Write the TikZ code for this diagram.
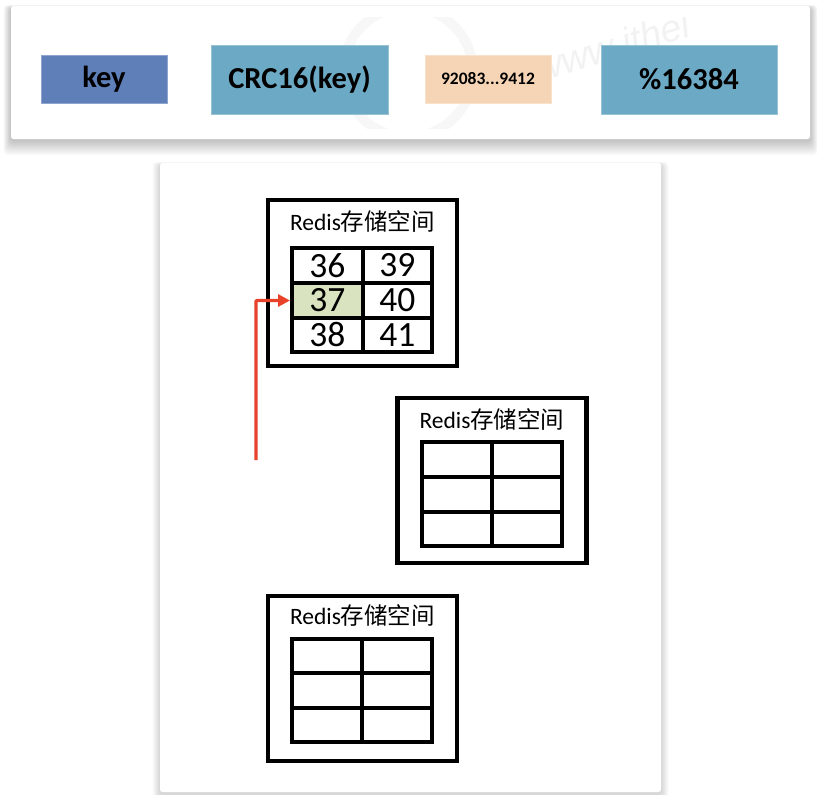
\documentclass[tikz,border=0pt]{standalone}
\usepackage{fontspec}
\setmainfont{Carlito}
\newfontfamily\cjk{Noto Sans CJK SC}
\newfontfamily\wmfont{Liberation Sans}
\usetikzlibrary{arrows.meta}
\definecolor{keyblue}{HTML}{5F7FB9}
\definecolor{tealbox}{HTML}{6CA9C5}
\definecolor{peach}{HTML}{F5D5B6}
\definecolor{hilite}{HTML}{D9E3BF}
\definecolor{redline}{HTML}{E8432A}
\tikzset{
  flowbox/.style={draw=#1!70!white,line width=.7pt,fill=#1,inner sep=0pt,font=\bfseries\fontsize{30.5}{32}\selectfont,text=black},
  panelbox/.style={fill=white,rounded corners=2.5pt,inner sep=0pt},
  storebox/.style={draw=black,line width=4.4pt,fill=white,inner sep=0pt},
  slotcell/.style={draw=black,line width=4pt,inner sep=0pt,font=\fontsize{35.5}{36}\selectfont,text=black},
  storetitle/.style={inner sep=0pt,font=\fontsize{23.5}{25}\selectfont,text=black},
  linkline/.style={draw=redline,line width=3.2pt},
  wmtext/.style={rotate=17,opacity=.05,inner sep=0pt,font=\wmfont\itshape\fontsize{38}{40}\selectfont},
}
% shadow of a panel: x0,y0,x1,y1,opacity
\newcommand{\softshadow}[5]{%
  \foreach \s in {10,9,...,1}{%
    \fill[black,opacity=#5,rounded corners=4pt]
      ({#1-\s*0.75},{#2+2-\s*0.3}) rectangle ({#3+\s*0.75},{#4+1+\s*1.5});}%
}
% one cell: name, x0, x1, y0, y1, colour, text
\newcommand{\slotnode}[7]{%
  \node[slotcell,fill=#6,minimum width={(#3-#2)*1pt},minimum height={(#5-#4)*1pt}]
    (#1) at ({(#2+#3)/2},{(#4+#5)/2}) {#7};%
}
\begin{document}
\begin{tikzpicture}[x=1pt,y=-1pt]
\useasboundingbox (0,0) rectangle (817,795);
\fill[white] (0,0) rectangle (817,795);
% panels
\softshadow{11}{6}{810}{139}{.024}
\softshadow{160}{163}{661}{792}{.014}
\node[panelbox,minimum width=799pt,minimum height=133pt] (toppanel) at (410.5,72.5) {};
\node[panelbox,minimum width=501pt,minimum height=629pt] (lowpanel) at (410.5,477.5) {};
% watermark
\begin{scope}
\clip (330,17) rectangle (720,128);
\draw[black,opacity=.03,line width=10pt] (408,72) circle[radius=65pt];
\node[wmtext] (wmark) at (612,46) {www.ithei};
\end{scope}
% flow boxes
\node[flowbox=keyblue,minimum width=126pt,minimum height=48pt] (key) at (104,79) {key};
\node[flowbox=tealbox,minimum width=177pt,minimum height=69pt] (crc) at (299.5,79.5) {CRC16(key)};
\node[flowbox=peach,minimum width=126pt,minimum height=48pt,font=\bfseries\fontsize{17.5}{19}\selectfont] (hash) at (488,79) {92083...9412};
\node[flowbox=tealbox,minimum width=176pt,minimum height=69pt] (mod) at (689,79.5) {\%16384};
% store 1
\node[storebox,minimum width=189pt,minimum height=166pt] (storeA) at (362.5,283) {};
\node[storetitle] (titleA) at (362.5,221) {Redis{\cjk 存储空间}};
\slotnode{a1}{292}{362.5}{248}{283}{white}{36}
\slotnode{a2}{292}{362.5}{283}{318}{hilite}{37}
\slotnode{a3}{292}{362.5}{318}{352}{white}{38}
\slotnode{a4}{362.5}{432}{248}{283}{white}{39}
\slotnode{a5}{362.5}{432}{283}{318}{white}{40}
\slotnode{a6}{362.5}{432}{318}{352}{white}{41}
% store 2
\node[storebox,minimum width=189pt,minimum height=165pt] (storeB) at (492,480.5) {};
\node[storetitle] (titleB) at (492,419) {Redis{\cjk 存储空间}};
\slotnode{b1}{422}{492}{442}{477}{white}{}
\slotnode{b2}{422}{492}{477}{512}{white}{}
\slotnode{b3}{422}{492}{512}{546}{white}{}
\slotnode{b4}{492}{562}{442}{477}{white}{}
\slotnode{b5}{492}{562}{477}{512}{white}{}
\slotnode{b6}{492}{562}{512}{546}{white}{}
% store 3
\node[storebox,minimum width=189pt,minimum height=165pt] (storeC) at (362.5,678.5) {};
\node[storetitle] (titleC) at (362.5,615) {Redis{\cjk 存储空间}};
\slotnode{c1}{292}{361.5}{639}{673}{white}{}
\slotnode{c2}{292}{361.5}{673}{708}{white}{}
\slotnode{c3}{292}{361.5}{708}{742}{white}{}
\slotnode{c4}{361.5}{432}{639}{673}{white}{}
\slotnode{c5}{361.5}{432}{673}{708}{white}{}
\slotnode{c6}{361.5}{432}{708}{742}{white}{}
% connector
\coordinate (linkstart) at (256,460);
\draw[linkline,-{Triangle[length=12pt,width=12pt]},rounded corners=1pt] (linkstart) |- (a2.west);
\end{tikzpicture}
\end{document}
